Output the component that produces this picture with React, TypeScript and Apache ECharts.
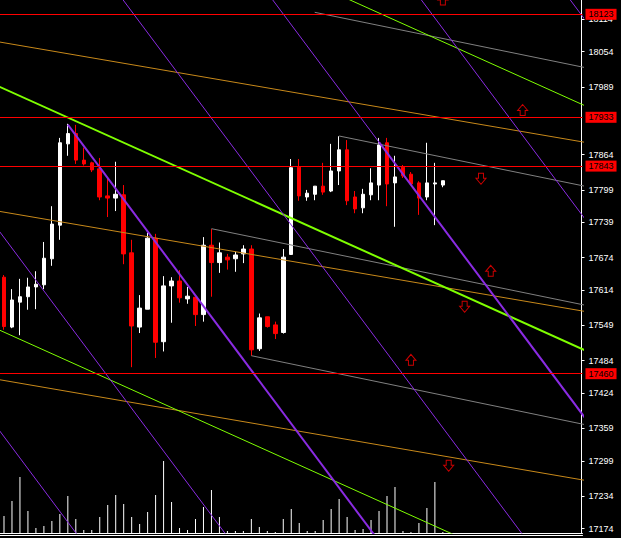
import React, { useEffect, useRef } from 'react';
import * as echarts from 'echarts';

// OHLC candles: [open, close, low, high]
const candles: number[][] = [
  [17638, 17547, 17541, 17642],
  [17546, 17596, 17544, 17616],
  [17592, 17602, 17531, 17635],
  [17602, 17620, 17578, 17637],
  [17620, 17625, 17579, 17649],
  [17624, 17673, 17616, 17703],
  [17672, 17736, 17659, 17769],
  [17734, 17886, 17707, 17895],
  [17884, 17903, 17862, 17921],
  [17903, 17854, 17847, 17919],
  [17854, 17847, 17844, 17877],
  [17849, 17836, 17832, 17851],
  [17838, 17786, 17780, 17858],
  [17788, 17784, 17749, 17823],
  [17784, 17791, 17760, 17851],
  [17790, 17681, 17662, 17808],
  [17683, 17548, 17472, 17707],
  [17546, 17581, 17535, 17605],
  [17579, 17710, 17579, 17720],
  [17710, 17518, 17489, 17718],
  [17519, 17622, 17501, 17640],
  [17622, 17631, 17554, 17638],
  [17631, 17600, 17591, 17651],
  [17598, 17603, 17589, 17620],
  [17601, 17569, 17548, 17601],
  [17569, 17697, 17556, 17712],
  [17697, 17665, 17602, 17727],
  [17665, 17683, 17646, 17702],
  [17675, 17670, 17652, 17681],
  [17672, 17679, 17648, 17685],
  [17681, 17690, 17664, 17697],
  [17690, 17504, 17493, 17697],
  [17506, 17563, 17502, 17571],
  [17565, 17547, 17545, 17565],
  [17550, 17534, 17524, 17556],
  [17536, 17675, 17534, 17690],
  [17680, 17840, 17679, 17856],
  [17841, 17788, 17779, 17856],
  [17786, 17793, 17779, 17799],
  [17791, 17806, 17780, 17806],
  [17806, 17795, 17790, 17849],
  [17797, 17834, 17795, 17884],
  [17834, 17873, 17808, 17898],
  [17873, 17779, 17771, 17891],
  [17786, 17764, 17756, 17797],
  [17766, 17791, 17756, 17801],
  [17790, 17812, 17780, 17839],
  [17808, 17882, 17780, 17895],
  [17886, 17810, 17769, 17895],
  [17812, 17823, 17731, 17862],
  [17841, 17825, 17821, 17845],
  [17828, 17810, 17808, 17832],
  [17812, 17784, 17753, 17815],
  [17786, 17812, 17780, 17886],
  [17810, 17812, 17734, 17849],
  [17808, 17816, 17804, 17816],
];

// tick volumes
const volumes: number[] = [
  17, 32, 56, 22, 5, 7, 12, 19, 37, 14, 3, 3, 16, 28, 38, 29, 16, 9, 21, 38,
  72, 31, 5, 3, 14, 26, 43, 16, 2, 2, 2, 14, 6, 2, 1, 14, 24, 10, 2, 2,
  13, 24, 34, 16, 3, 4, 13, 22, 37, 46, 2, 1, 10, 25, 51, 1,
];

const priceTicks: number[] = [
  18114, 18054, 17989, 17864, 17799, 17739, 17674, 17614, 17549, 17484,
  17424, 17359, 17299, 17234, 17174,
];

const levelLines: number[] = [18123, 17933, 17843, 17460];
const lastPrice = 17816;

// trend lines: [barIndex, price] anchor pairs
const purpleThin: number[][][] = [
  [[-42.76, 18186.3], [11.55, 17116.3]],
  [[-24.11, 18186.3], [30.2, 17116.3]],
  [[13.06, 18186.3], [67.38, 17116.3]],
  [[31.81, 18186.3], [86.13, 17116.3]],
  [[50.44, 18186.3], [104.75, 17116.3]],
  [[69.1, 18186.3], [123.41, 17116.3]],
];
const purpleThick: number[][][] = [
  [[8, 17919.5], [48.76, 17116.3]],
  [[47, 17887.1], [86.13, 17116.3]],
];
const greenThick: number[][][] = [
  [[-2.81, 18004.2], [74.69, 17490.6]],
];
const greenThin: number[][][] = [
  [[37.19, 18190.4], [74.69, 17941.9]],
  [[-2.81, 17555.3], [74.69, 17041.7]],
];
const orangeLines: number[][][] = [
  [[-2.81, 18077.6], [74.69, 17882.1]],
  [[-2.81, 17765.1], [74.69, 17570.1]],
  [[-2.81, 17454.6], [74.69, 17258.5]],
];
const grayLines: number[][][] = [
  [[38.94, 18126.7], [74.69, 18019.1]],
  [[42, 17898.5], [74.69, 17800.2]],
  [[26, 17727.5], [74.69, 17580.8]],
  [[31, 17493.2], [74.69, 17360.3]],
];

const upArrows: number[][] = [
  [65, 17946.5],
  [55, 18150.3],
  [61, 17649.8],
  [51, 17485.6],
];
const downArrows: number[][] = [
  [59.78, 17819.5],
  [57.73, 17583.4],
  [55.73, 17290.1],
];

const N_BARS = 73;
const Y_MAX = 18149.4;
const Y_MIN = 17166.1;
const FONT = 'Liberation Sans';

const hiddenAxisParts = {
  axisLine: { show: false, onZero: false },
  axisTick: { show: false },
  axisLabel: { show: false },
  splitLine: { show: false },
  splitArea: { show: false },
};

export default function App() {
  const ref = useRef<HTMLDivElement>(null);

  useEffect(() => {
    if (!ref.current) return;
    const chart = echarts.init(ref.current, null, { renderer: 'svg' });
    const cats = Array.from({ length: N_BARS }, (_, i) => String(i));

    const mkLines = (segs: number[][][], color: string, width: number) =>
      segs.map((seg) => ({
        type: 'line',
        xAxisIndex: 1,
        yAxisIndex: 0,
        data: seg,
        showSymbol: false,
        symbol: 'none',
        clip: true,
        silent: true,
        z: 3,
        lineStyle: { color, width },
      }));

    const option: any = {
      animation: false,
      backgroundColor: '#000000',
      grid: { left: -1.5, right: 38.5, top: 0, bottom: 5, containLabel: false },
      xAxis: [
        {
          type: 'category',
          data: cats,
          boundaryGap: true,
          axisLine: { show: true, onZero: false, lineStyle: { color: '#ffffff', width: 1 } },
          axisTick: { show: false },
          axisLabel: { show: false },
          splitLine: { show: false },
        },
        {
          type: 'value',
          min: -0.5,
          max: N_BARS - 0.5,
          position: 'bottom',
          offset: 2,
          axisLine: { show: true, onZero: false, lineStyle: { color: '#ffffff', width: 1 } },
          axisTick: { show: false },
          axisLabel: { show: false },
          splitLine: { show: false },
        },
      ],
      yAxis: [
        {
          type: 'value',
          position: 'right',
          offset: -1,
          min: Y_MIN,
          max: Y_MAX,
          axisLine: { show: true, onZero: false, lineStyle: { color: '#ffffff', width: 1 } },
          axisTick: {
            show: true,
            length: 3,
            customValues: priceTicks,
            lineStyle: { color: '#ffffff' },
          },
          axisLabel: {
            show: true,
            customValues: priceTicks,
            color: '#ffffff',
            fontSize: 9,
            fontFamily: FONT,
            margin: 7,
            formatter: (v: number) => String(v),
          },
          splitLine: { show: false },
        },
        {
          type: 'value',
          position: 'right',
          min: 0,
          max: 533,
          show: false,
          ...hiddenAxisParts,
        },
      ],
      series: [
        {
          type: 'bar',
          xAxisIndex: 0,
          yAxisIndex: 1,
          data: volumes,
          barWidth: 1,
          silent: true,
          z: 1,
          itemStyle: { color: '#ffffff' },
        },
        {
          type: 'candlestick',
          xAxisIndex: 0,
          yAxisIndex: 0,
          data: candles,
          barWidth: 4,
          silent: true,
          z: 2,
          itemStyle: {
            color: '#ffffff',
            color0: '#ff0000',
            borderColor: '#ffffff',
            borderColor0: '#ff0000',
            borderWidth: 1,
          },
          markLine: {
            silent: true,
            symbol: ['none', 'none'],
            animation: false,
            lineStyle: { color: '#ff0000', width: 1, type: 'solid' },
            label: {
              show: true,
              position: 'end',
              distance: 3,
              formatter: (p: any) => String(p.value),
              color: '#000000',
              backgroundColor: '#ff0000',
              padding: [1, 3, 1, 3],
              fontSize: 9,
              lineHeight: 9,
              fontFamily: FONT,
            },
            data: [
              ...levelLines.map((v) => ({ yAxis: v })),
              {
                yAxis: lastPrice,
                lineStyle: { opacity: 0 },
                label: { backgroundColor: '#ffffff', color: '#000000' },
              },
            ],
          },
        },
        ...mkLines(orangeLines, '#c8891a', 1),
        ...mkLines(grayLines, '#808080', 1),
        ...mkLines(greenThin, '#7fff00', 1),
        ...mkLines(greenThick, '#7fff00', 2),
        ...mkLines(purpleThin, '#8a2be2', 1),
        ...mkLines(purpleThick, '#8a2be2', 2),
        {
          type: 'scatter',
          xAxisIndex: 1,
          yAxisIndex: 0,
          data: upArrows,
          symbol: 'path://M5,0L10,6L7.5,6L7.5,11L2.5,11L2.5,6L0,6Z',
          symbolSize: [10, 11],
          clip: false,
          silent: true,
          z: 5,
          itemStyle: { color: '#000000', borderColor: '#ff0000', borderWidth: 1 },
        },
        {
          type: 'scatter',
          xAxisIndex: 1,
          yAxisIndex: 0,
          data: downArrows,
          symbol: 'path://M2.5,0L7.5,0L7.5,5L10,5L5,11L0,5L2.5,5Z',
          symbolSize: [10, 11],
          clip: false,
          silent: true,
          z: 5,
          itemStyle: { color: '#000000', borderColor: '#ff0000', borderWidth: 1 },
        },
      ],
    };

    chart.setOption(option);
    return () => chart.dispose();
  }, []);

  return (
    <div
      ref={ref}
      style={{
        position: 'fixed',
        left: 0,
        top: 0,
        width: 621,
        height: 538,
        background: '#000000',
      }}
    />
  );
}
